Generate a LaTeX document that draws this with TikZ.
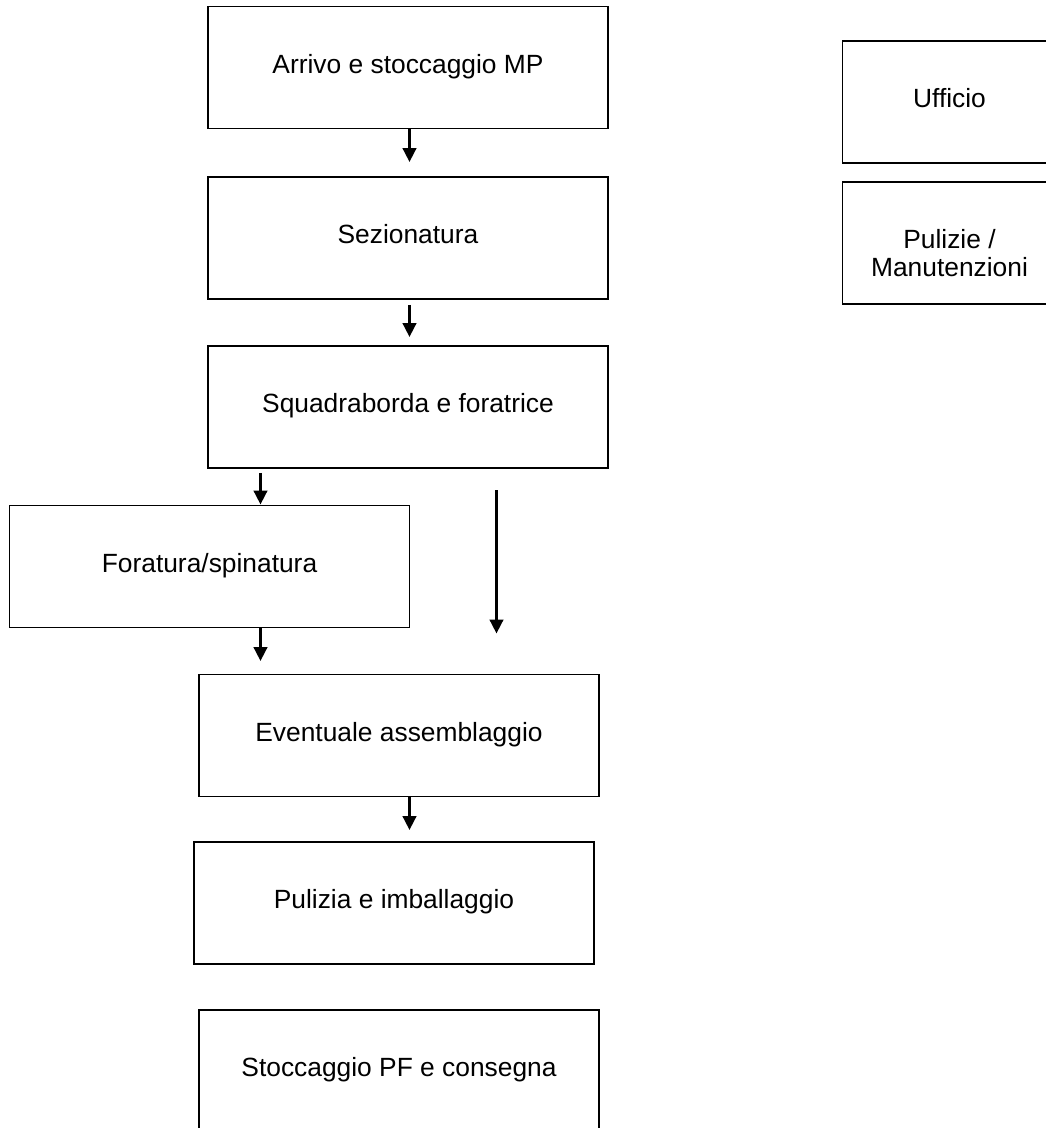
\documentclass[tikz,border=0pt]{standalone}
\usepackage{fontspec}
\setmainfont{Liberation Sans}
\usetikzlibrary{arrows.meta}

\begin{document}
\begin{tikzpicture}
            \tikzstyle{every node} = [font=\fontsize{15}{16}\selectfont]
            \tikzstyle{stagebox} = [draw, line width=0.9pt, inner sep=0pt,
                minimum width=8cm, minimum height=2.44cm,
                text height=11.2pt, text depth=4.8pt]
            \tikzstyle{sidebox} = [stagebox, minimum width=4.28cm, minimum height=2.45cm]
            \tikzstyle{flowarrow} = [line width=1.6pt,
                -{Triangle[width=0.27cm, length=0.28cm]}]

            \useasboundingbox (0, 0) rectangle (20.92, -22.56);

            \node[stagebox] (arrivo) at (8.16, -1.35) {Arrivo e stoccaggio MP};
            \node[stagebox] (sezionatura) at (8.16, -4.76) {Sezionatura};
            \node[stagebox] (squadraborda) at (8.16, -8.14) {Squadraborda e foratrice};
            \node[stagebox] (foratura) at (4.19, -11.33) {Foratura/spinatura};
            \node[stagebox] (assemblaggio) at (7.98, -14.71) {Eventuale assemblaggio};
            \node[stagebox] (pulizia) at (7.88, -18.06) {Pulizia e imballaggio};
            \node[stagebox] (consegna) at (7.98, -21.42) {Stoccaggio PF e consegna};

            \node[sidebox] (ufficio) at (18.99, -2.04) {Ufficio};
            \node[sidebox, text height=, text depth=] (manutenzioni) at (18.99, -4.86) {};
            \node[align=center, yshift=-0.2cm] (manutenzionitext) at (manutenzioni)
                {Pulizie /\\Manutenzioni};

            \coordinate (tipa) at (8.19, -3.24);
            \coordinate (tipb) at (8.19, -6.74);
            \coordinate (tipc) at (5.21, -10.09);
            \coordinate (tipd) at (5.21, -13.22);
            \coordinate (tipe) at (9.93, -12.67);
            \coordinate (tipf) at (8.19, -16.6);

            \draw[flowarrow] (arrivo.south -| tipa) -- (tipa);
            \draw[flowarrow, shorten <=0.1cm] (sezionatura.south -| tipb) -- (tipb);
            \draw[flowarrow, shorten <=0.08cm] (squadraborda.south -| tipc) -- (tipc);
            \draw[flowarrow] (foratura.south -| tipd) -- (tipd);
            \draw[flowarrow, shorten <=0.43cm] (squadraborda.south -| tipe) -- (tipe);
            \draw[flowarrow] (assemblaggio.south -| tipf) -- (tipf);
        \end{tikzpicture}
\end{document}
